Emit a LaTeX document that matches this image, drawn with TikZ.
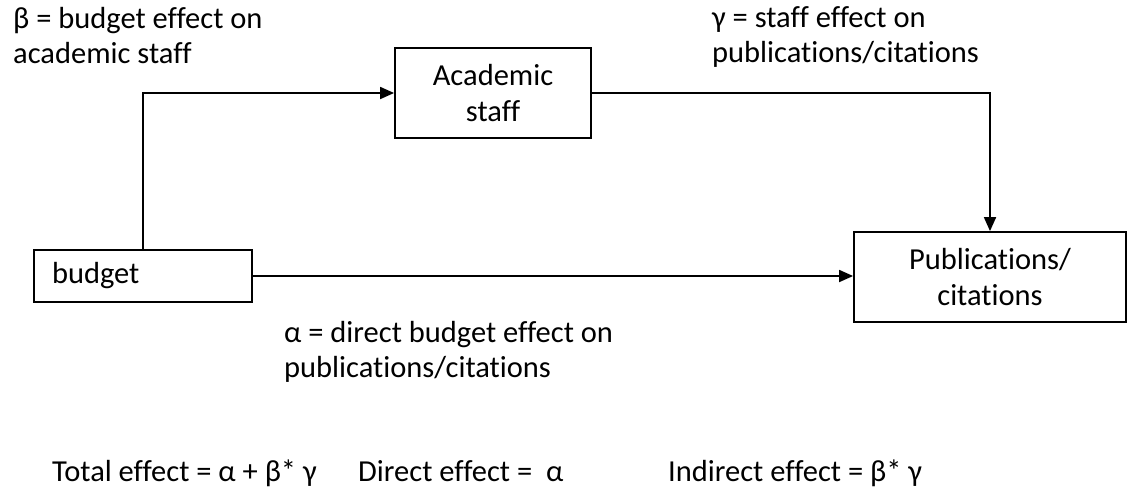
\documentclass[tikz,border=0pt]{standalone}
\usepackage{fontspec}
\setmainfont{Carlito}[Ligatures=NoCommon]
\usetikzlibrary{arrows.meta}
\begin{document}
\begin{tikzpicture}[x=1pt,y=-1pt,
  txt/.style={font=\fontsize{30.5pt}{35.4pt}\selectfont, inner sep=0pt, anchor=base west},
  box/.style={draw, line width=1.8pt, font=\fontsize{30.5pt}{35.4pt}\selectfont, align=center, inner sep=0pt},
  conn/.style={line width=1.8pt, -{Triangle[length=14pt,width=12pt]}}]
\useasboundingbox (0,0) rectangle (1132,488);
% boxes
\node[box, text width=182pt, align=left, inner xsep=18pt, minimum height=52pt] (budget) at (143,276) {budget};
\node[box, minimum width=196pt, minimum height=90pt] (acad) at (493,93) {Academic\\staff};
\node[box, minimum width=272pt, minimum height=90pt] (pub) at (990,277) {Publications/\\citations};
% connectors
\draw[conn] (budget.north) |- (acad.west);
\draw[conn] (acad.east) -| (pub.north);
\draw[conn] (budget.east) -- (budget.east -| pub.west);
% labels
\node[txt] (b1) at (13,28) {β = budget effect on};
\node[txt] (b2) at (13,63) {academic staff};
\node[txt] (g1) at (712,27) {γ = staff effect on};
\node[txt] (g2) at (712,62) {publications/citations};
\node[txt] (a1) at (284,342) {α = direct budget effect on};
\node[txt] (a2) at (284,377) {publications/citations};
\node[txt] (t1) at (52,481) {Total effect = α + β* γ};
\node[txt] (t2) at (358,481) {Direct effect =\ \ α};
\node[txt] (t3) at (668,481) {Indirect effect = β* γ};
\end{tikzpicture}
\end{document}
